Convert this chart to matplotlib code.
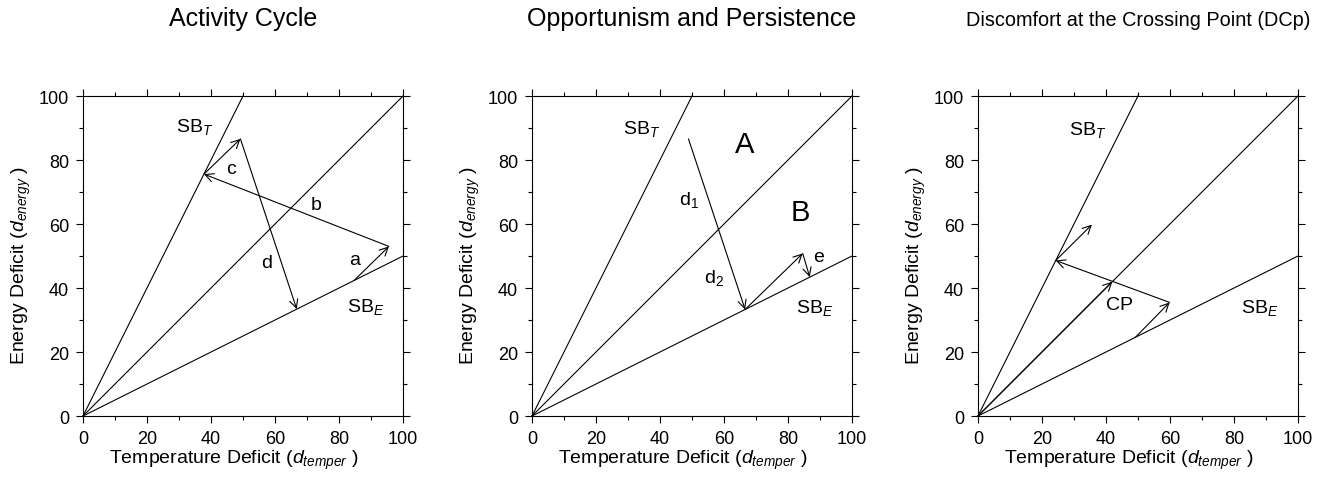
import numpy as np
import matplotlib
matplotlib.use("Agg")
import matplotlib.pyplot as plt
from matplotlib.ticker import MultipleLocator

plt.rcParams['font.family'] = ['Liberation Sans', 'DejaVu Sans']
plt.rcParams['mathtext.fontset'] = 'custom'
plt.rcParams['mathtext.rm'] = 'Liberation Sans'
plt.rcParams['mathtext.it'] = 'Liberation Sans:italic'

# switching boundaries and the diagonal
sbt_x = [0, 50]
sbt_y = [0, 100]
diag_x = [0, 100]
diag_y = [0, 100]
sbe_x = [0, 100]
sbe_y = [0, 50]

titles = ["Activity Cycle", "Opportunism and Persistence",
          "Discomfort at the Crossing Point (DCp)"]
title_sizes = [18, 18, 14.3]

# arrows: (x_start, y_start, x_end, y_end)
arrows_cycle = [
    (84.7, 42.35, 95.6, 53.0),   # a
    (95.6, 53.0, 37.8, 75.6),    # b
    (37.8, 75.6, 49.2, 86.6),    # c
    (49.2, 86.6, 66.8, 33.4),    # d
]
arrows_opp = [
    (48.9, 86.6, 66.6, 33.3),    # d1/d2
    (66.6, 33.3, 84.6, 50.8),
    (84.6, 50.8, 86.8, 43.4),    # e
]
arrows_dcp = [
    (0.0, 0.0, 42.0, 42.0),
    (49.2, 24.6, 59.9, 35.5),
    (59.9, 35.5, 24.3, 48.6),
    (24.3, 48.6, 35.6, 59.8),
]

# text labels: (x, y, text, size)
labels_cycle = [
    (34.9, 90.7, "SB$_T$", 14), (88.4, 34.5, "SB$_E$", 14),
    (46.3, 77.2, "c", 14), (72.8, 66.0, "b", 14),
    (85.0, 49.0, "a", 14), (57.5, 48.0, "d", 14),
]
labels_opp = [
    (34.4, 90.0, "SB$_T$", 14), (88.2, 34.0, "SB$_E$", 14),
    (66.3, 85.0, "A", 21), (84.0, 63.6, "B", 21),
    (49.0, 67.8, "d$_1$", 14), (56.9, 43.3, "d$_2$", 14),
    (89.6, 50.0, "e", 14),
]
labels_dcp = [
    (34.4, 89.7, "SB$_T$", 14), (88.0, 34.0, "SB$_E$", 14),
    (44.3, 34.7, "CP", 14),
]

fig = plt.figure(figsize=(13.3, 4.89), dpi=100)
lefts = [0.0624, 0.4, 0.7353]
width = 0.2406
bottom = 0.1472
height = 0.6544

panel_arrows = [arrows_cycle, arrows_opp, arrows_dcp]
panel_labels = [labels_cycle, labels_opp, labels_dcp]

for i in range(3):
    ax = fig.add_axes([lefts[i], bottom, width, height])
    ax.set_xlim(0, 100)
    ax.set_ylim(0, 100)
    for lx, ly in [(sbt_x, sbt_y), (diag_x, diag_y), (sbe_x, sbe_y)]:
        ax.plot(lx, ly, color='black', lw=0.8, clip_on=False)
    for (x0, y0, x1, y1) in panel_arrows[i]:
        ax.annotate("", xy=(x1, y1), xytext=(x0, y0),
                    arrowprops=dict(arrowstyle='->', lw=0.8, color='black',
                                    shrinkA=0, shrinkB=0, mutation_scale=15))
    for (tx, ty, s, fs) in panel_labels[i]:
        ax.text(tx, ty, s, fontsize=fs, ha='center', va='center')

    ax.xaxis.set_major_locator(MultipleLocator(20))
    ax.xaxis.set_minor_locator(MultipleLocator(10))
    ax.yaxis.set_major_locator(MultipleLocator(20))
    ax.yaxis.set_minor_locator(MultipleLocator(10))
    ax.tick_params(which='both', direction='out', top=True, right=True,
                   labelsize=13, width=0.8, pad=5)
    ax.tick_params(which='major', length=5)
    ax.tick_params(which='minor', length=3)
    for sp in ax.spines.values():
        sp.set_linewidth(0.8)
    ax.set_xlabel("Temperature Deficit ($d_{temper}$ )", fontsize=14, labelpad=1)
    ax.set_ylabel("Energy Deficit ($d_{energy}$ )", fontsize=14, labelpad=4)
    ax.xaxis.label.set_x(0.47)
    ax.yaxis.label.set_y(0.475)
    ax.text(0.5, 1.222, titles[i], fontsize=title_sizes[i], ha='center',
            va='baseline', transform=ax.transAxes)

fig.savefig("out.png", dpi=100)
